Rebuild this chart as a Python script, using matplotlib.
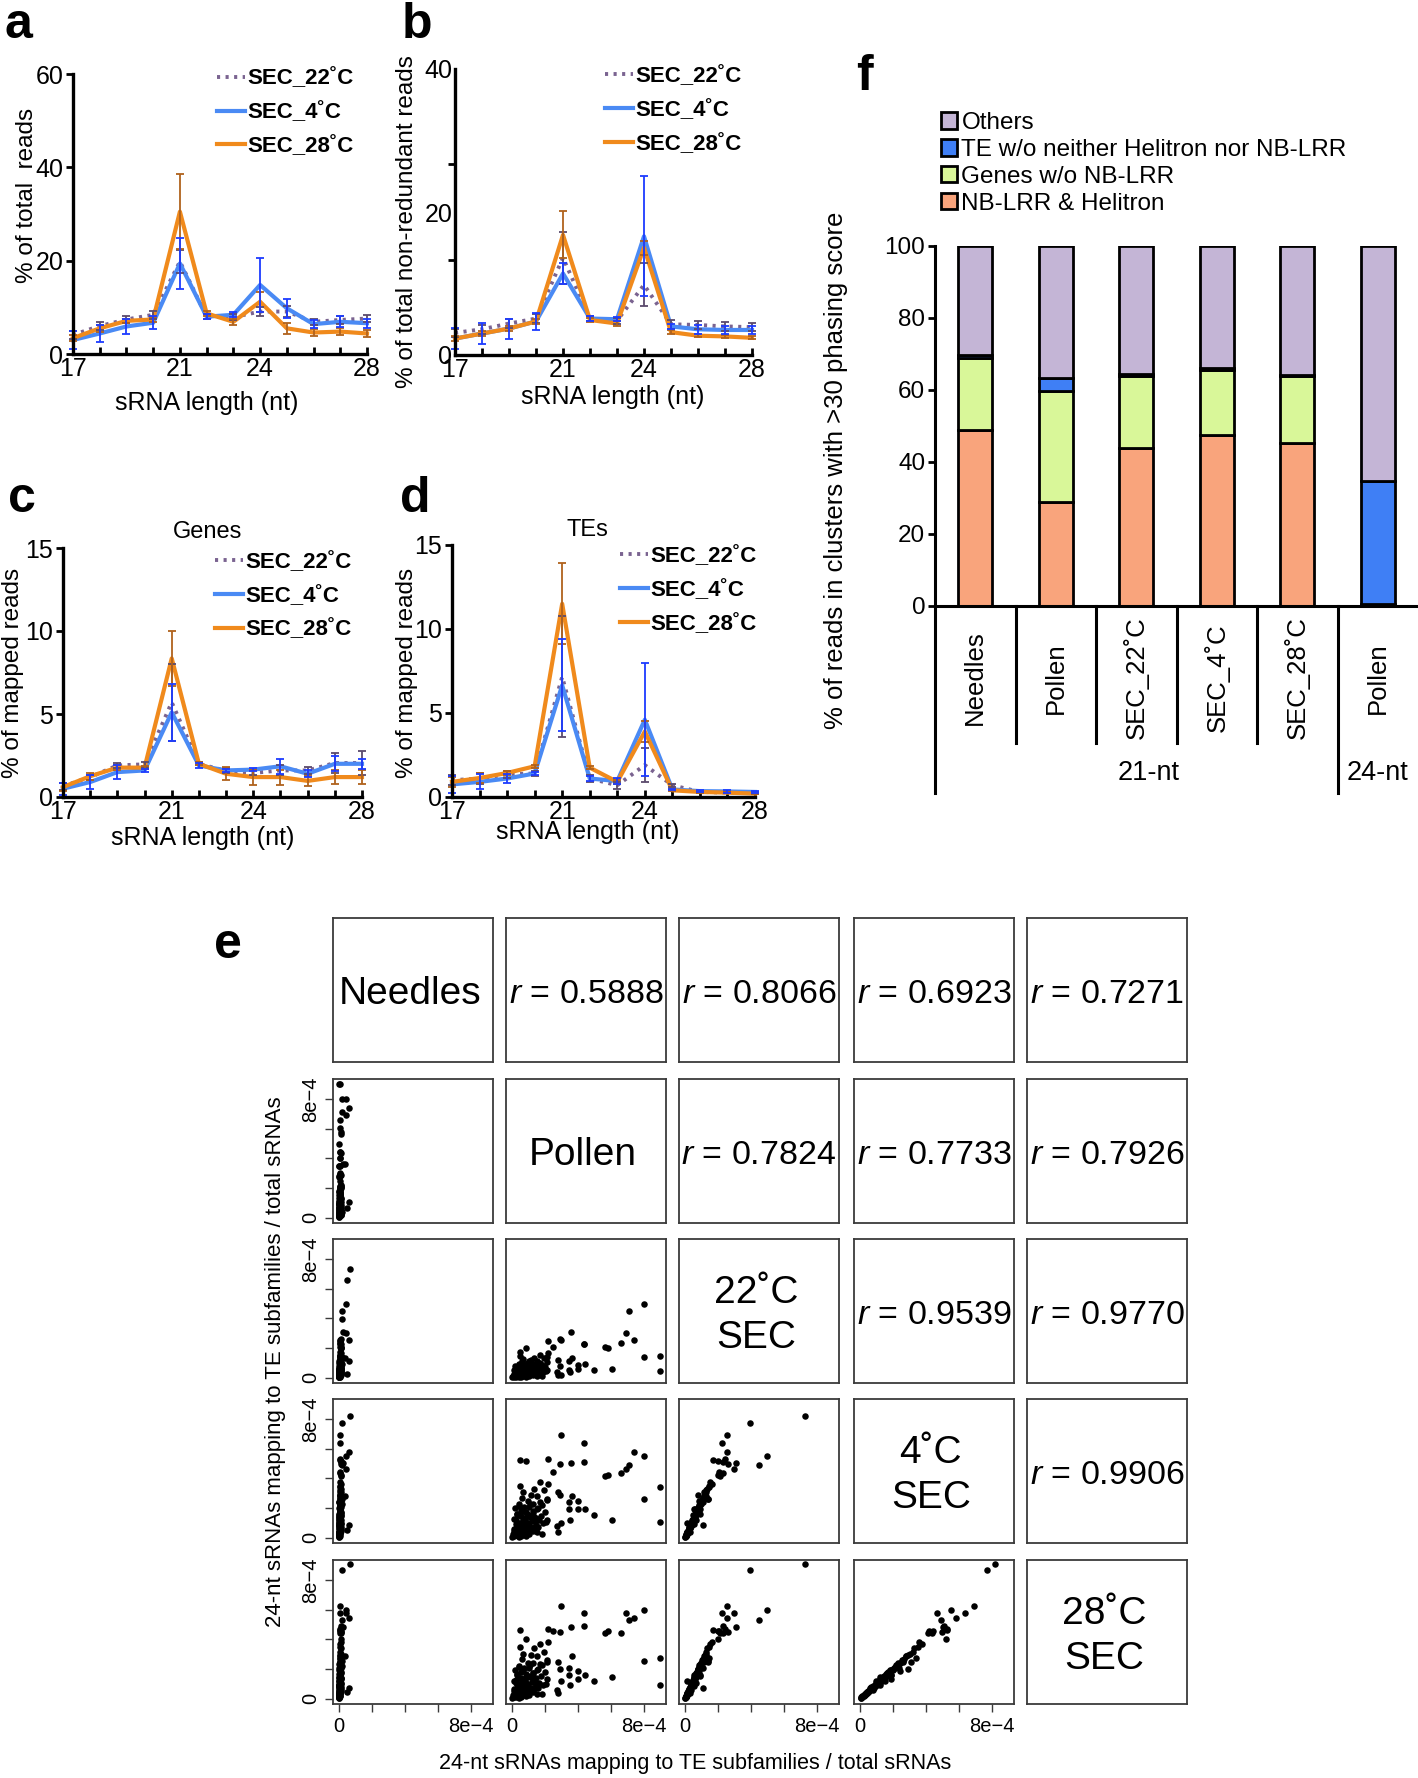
import matplotlib
matplotlib.use('Agg')
import matplotlib.pyplot as plt
import matplotlib.transforms as mtransforms
from matplotlib.lines import Line2D
from matplotlib.patches import Patch
import numpy as np

plt.rcParams['font.family'] = ['Liberation Sans', 'DejaVu Sans']
plt.rcParams['mathtext.fontset'] = 'custom'
plt.rcParams['mathtext.it'] = 'Liberation Sans:italic'
plt.rcParams['mathtext.rm'] = 'Liberation Sans'

# ---- panels a-d : sRNA length distributions ----
lengths = list(range(17, 29))
length_ticks = [17, 21, 24, 28]
series_names = ['SEC_22˚C', 'SEC_4˚C', 'SEC_28˚C']

a_22 = [4.1, 6.0, 7.4, 8.4, 19.8, 8.0, 7.9, 9.1, 9.1, 6.9, 7.3, 7.6]
a_22_err = [0.8, 0.8, 0.7, 0.8, 2.5, 0.6, 0.6, 1.0, 1.2, 0.7, 0.8, 0.8]
a_4 = [3.0, 4.4, 5.9, 6.7, 19.4, 8.0, 8.4, 14.8, 9.8, 6.4, 6.9, 6.6]
a_4_err = [1.9, 1.8, 1.7, 1.4, 5.4, 0.5, 0.5, 5.8, 2.0, 0.8, 1.2, 1.0]
a_28 = [3.4, 5.5, 7.1, 7.4, 30.5, 8.7, 6.9, 11.2, 5.5, 4.6, 4.8, 4.4]
a_28_err = [0.6, 0.7, 0.5, 0.5, 8.1, 0.5, 0.7, 2.1, 1.2, 0.8, 0.8, 0.8]

b_22 = [3.1, 3.6, 4.4, 5.1, 13.6, 5.1, 4.8, 9.8, 4.3, 4.2, 4.0, 3.9]
b_22_err = [0.6, 0.6, 0.6, 0.6, 3.6, 0.4, 0.4, 3.0, 0.6, 0.6, 0.6, 0.6]
b_4 = [2.3, 3.0, 3.7, 4.7, 11.4, 5.1, 5.0, 16.6, 4.0, 3.6, 3.5, 3.5]
b_4_err = [1.5, 1.5, 1.4, 1.2, 1.4, 0.3, 0.3, 8.4, 0.4, 0.6, 0.6, 0.6]
b_28 = [2.3, 3.0, 3.7, 4.7, 16.8, 4.9, 4.4, 15.0, 3.2, 2.7, 2.6, 2.4]
b_28_err = [0.3, 0.3, 0.3, 0.3, 3.3, 0.3, 0.3, 1.0, 0.3, 0.2, 0.2, 0.2]

c_22 = [0.65, 1.2, 1.9, 1.97, 5.7, 2.0, 1.57, 1.45, 1.6, 1.6, 2.05, 2.05]
c_22_err = [0.2, 0.15, 0.15, 0.15, 2.3, 0.1, 0.15, 0.15, 0.3, 0.2, 0.6, 0.7]
c_4 = [0.5, 0.9, 1.5, 1.6, 5.1, 1.9, 1.6, 1.65, 1.85, 1.4, 2.0, 2.0]
c_4_err = [0.35, 0.4, 0.4, 0.1, 1.7, 0.15, 0.1, 0.1, 0.45, 0.2, 0.45, 0.3]
c_28 = [0.6, 1.25, 1.77, 1.77, 8.35, 2.0, 1.4, 1.2, 1.2, 0.97, 1.2, 1.2]
c_28_err = [0.25, 0.2, 0.15, 0.1, 1.65, 0.1, 0.4, 0.45, 0.45, 0.3, 0.4, 0.4]

d_22 = [1.0, 1.1, 1.35, 1.4, 7.15, 1.1, 0.7, 1.9, 0.7, 0.3, 0.26, 0.24]
d_22_err = [0.3, 0.3, 0.2, 0.15, 3.6, 0.2, 0.2, 1.0, 0.1, 0.05, 0.05, 0.05]
d_4 = [0.75, 0.9, 1.1, 1.4, 6.65, 1.1, 0.95, 4.6, 0.45, 0.35, 0.33, 0.3]
d_4_err = [0.5, 0.45, 0.25, 0.1, 2.75, 0.15, 0.2, 3.35, 0.05, 0.05, 0.1, 0.05]
d_28 = [0.9, 1.13, 1.43, 1.83, 11.5, 1.75, 0.9, 3.9, 0.4, 0.3, 0.26, 0.2]
d_28_err = [0.3, 0.3, 0.1, 0.1, 2.4, 0.1, 0.1, 0.6, 0.05, 0.05, 0.05, 0.05]

# ---- panel f : phased clusters ----
f_categories = ['Needles', 'Pollen', 'SEC_22˚C', 'SEC_4˚C', 'SEC_28˚C', 'Pollen']
f_groups = ['21-nt', '24-nt']
f_nblrr = [48.8, 28.9, 44.0, 47.4, 45.4, 0.5]
f_genes = [20.2, 30.8, 20.0, 18.2, 18.5, 0.0]
f_te = [0.6, 3.6, 0.5, 0.6, 0.3, 34.3]
f_others = [30.4, 36.7, 35.5, 33.8, 35.8, 65.2]
f_labels = ['NB-LRR & Helitron', 'Genes w/o NB-LRR',
            'TE w/o neither Helitron nor NB-LRR', 'Others']

# ---- panel e : 24-nt sRNAs per TE subfamily (x 1e-4 of total sRNAs) ----
sample_labels = ['Needles', 'Pollen', '22˚C\nSEC', '4˚C\nSEC', '28˚C\nSEC']
te_needles = [0.65, 0.18, 0.46, 0.40, 0.06, 0.06, 0.60, 0.05, 0.10, 0.08,
              0.15, 0.26, 0.10, 0.07, 0.10, 0.12, 0.08, 0.40, 0.16, 0.05,
              0.03, 0.16, 0.04, 0.02, 0.05, 0.04, 0.06, 0.03, 0.07, 0.02,
              0.09, 0.05, 0.01, 0.04, 0.03, 0.60, 0.48, 0.36] + \
             [0.01, 0.02, 0.03, 0.00, 0.05, 0.02, 0.08, 0.04, 0.10, 0.03,
              0.06, 0.12, 0.02, 0.07, 0.04, 0.15, 0.05, 0.09, 0.03, 0.11,
              0.06, 0.02, 0.14, 0.08, 0.04, 0.10, 0.06, 0.13, 0.05, 0.09,
              0.03, 0.12, 0.07, 0.04, 0.16, 0.08, 0.05, 0.11, 0.06, 0.09,
              0.04, 0.13, 0.07, 0.10, 0.05, 0.08, 0.12, 0.02, 0.05, 0.03,
              0.08, 0.06, 0.00, 0.01, 0.03, 0.02, 0.04, 0.07, 0.05, 0.09] + \
             [0.02, 0.04, 0.06, 0.01, 0.08, 0.03, 0.05, 0.10, 0.02, 0.07,
              0.04, 0.09, 0.03, 0.06, 0.11, 0.02, 0.05, 0.08, 0.04, 0.07,
              0.03, 0.10, 0.06, 0.02, 0.09, 0.05, 0.04, 0.08, 0.06, 0.03]
te_pollen = [13.0, 11.0, 12.0, 8.0, 3.0, 4.4, 7.4, 0.46, 0.84, 2.16,
             2.9, 3.6, 4.37, 2.5, 5.65, 5.8, 6.6, 6.9, 7.1, 9.0,
             9.0, 8.0, 6.05, 5.0, 4.45, 4.0, 4.0, 3.45, 3.45, 3.5,
             2.8, 2.9, 2.8, 2.95, 2.75, 1.05, 0.67, 3.64] + \
            [0.10, 0.30, 0.05, 0.60, 0.20, 0.90, 0.40, 1.20, 0.15, 0.70,
             1.60, 0.35, 0.95, 0.50, 1.90, 0.25, 1.40, 0.80, 0.10, 2.10,
             0.65, 1.10, 0.45, 1.75, 0.30, 1.25, 0.85, 2.00, 0.55, 1.50,
             0.20, 1.05, 0.75, 1.85, 0.40, 1.30, 0.95, 2.15, 0.60, 1.55,
             1.15, 0.70, 1.95, 1.35, 0.50, 1.70, 2.20, 1.50, 1.00, 0.35,
             1.65, 0.90, 0.02, 0.55, 0.25, 1.80, 1.35, 2.05, 1.45, 2.10] + \
            [0.45, 0.85, 0.20, 1.05, 0.40, 0.65, 1.30, 0.15, 0.90, 0.50,
             1.15, 0.28, 0.75, 1.45, 0.38, 0.95, 0.62, 1.20, 0.22, 0.80,
             1.35, 0.58, 1.00, 0.33, 1.25, 0.70, 1.60, 0.45, 1.10, 1.70]
te_sec22 = [7.3, 3.95, 6.6, 5.0, 2.55, 2.25, 2.57, 1.7, 2.0, 2.45,
            2.6, 3.1, 2.3, 2.07, 2.1, 2.0, 2.34, 3.0, 4.5, 1.44,
            0.45, 1.4, 0.6, 0.5, 0.9, 0.88, 0.6, 1.1, 0.55, 0.4,
            1.17, 0.8, 0.15, 0.15, 0.35, 1.1, 0.22, 1.3] + \
           [0.05, 0.08, 0.10, 0.12, 0.15, 0.18, 0.20, 0.22, 0.25, 0.28,
            0.30, 0.32, 0.35, 0.38, 0.40, 0.42, 0.45, 0.48, 0.50, 0.52,
            0.55, 0.58, 0.60, 0.62, 0.65, 0.68, 0.70, 0.72, 0.75, 0.78,
            0.80, 0.83, 0.85, 0.88, 0.90, 0.95, 1.00, 1.05, 1.10, 1.15,
            1.20, 1.25, 1.30, 1.35, 1.45, 1.55, 1.65, 0.10, 0.30, 0.55,
            0.70, 0.90, 0.02, 0.04, 0.06, 0.14, 0.26, 0.46, 0.62, 1.40] + \
           [0.03, 0.07, 0.09, 0.11, 0.13, 0.16, 0.19, 0.21, 0.23, 0.27,
            0.29, 0.31, 0.34, 0.37, 0.39, 0.41, 0.44, 0.47, 0.49, 0.53,
            0.57, 0.59, 0.63, 0.67, 0.73, 0.77, 0.82, 0.86, 0.93, 0.98]
te_sec4 = [8.2, 7.7, 10.5, 5.5, 6.9, 6.35, 5.8, 5.27, 5.2, 5.3,
           5.0, 5.05, 5.1, 4.45, 4.15, 4.2, 4.35, 4.65, 4.9, 3.4,
           1.04, 2.6, 1.2, 1.55, 1.9, 2.45, 1.9, 2.4, 1.9, 1.2,
           3.1, 2.9, 0.4, 1.0, 0.8, 0.88, 0.5, 2.8] + \
          [0.10, 0.20, 0.22, 0.30, 0.35, 0.40, 0.45, 0.55, 0.60, 0.62,
           0.75, 0.70, 0.85, 0.90, 1.00, 0.95, 1.10, 1.15, 1.25, 1.20,
           1.35, 1.40, 1.50, 1.45, 1.60, 1.65, 1.75, 1.70, 1.85, 1.90,
           2.00, 2.05, 2.10, 2.20, 2.25, 2.30, 2.45, 2.55, 2.70, 2.80,
           2.90, 3.05, 3.20, 3.30, 3.50, 3.75, 3.60, 0.35, 0.40, 0.90,
           1.20, 1.60, 0.05, 0.08, 0.15, 0.28, 0.70, 1.05, 1.30, 2.60] + \
          [0.07, 0.14, 0.25, 0.24, 0.33, 0.36, 0.48, 0.47, 0.58, 0.64,
           0.68, 0.78, 0.80, 0.88, 0.97, 1.02, 1.04, 1.12, 1.20, 1.28,
           1.36, 1.44, 1.55, 1.58, 1.78, 1.83, 1.98, 2.12, 2.28, 2.40]
te_sec28 = [9.1, 8.7, 11.0, 5.95, 6.25, 5.8, 5.45, 4.65, 4.05, 4.7,
            4.5, 4.83, 4.9, 4.55, 4.45, 4.55, 4.4, 5.8, 5.3, 2.76,
            0.95, 2.55, 1.44, 1.2, 1.6, 1.85, 1.3, 2.05, 1.6, 0.9,
            2.5, 2.0, 0.35, 1.2, 0.6, 0.72, 0.45, 2.9] + \
           [0.12, 0.18, 0.25, 0.28, 0.38, 0.45, 0.42, 0.50, 0.62, 0.70,
            0.72, 0.80, 0.82, 0.95, 0.92, 1.05, 1.08, 1.20, 1.18, 1.30,
            1.32, 1.45, 1.42, 1.55, 1.58, 1.70, 1.68, 1.80, 1.82, 1.95,
            1.92, 2.10, 2.05, 2.25, 2.20, 2.40, 2.38, 2.60, 2.65, 2.85,
            2.95, 3.00, 3.15, 3.40, 3.45, 3.70, 3.85, 0.30, 0.35, 0.85,
            1.05, 1.50, 0.04, 0.10, 0.14, 0.33, 0.65, 1.00, 1.38, 2.50] + \
           [0.06, 0.17, 0.20, 0.27, 0.30, 0.40, 0.44, 0.52, 0.55, 0.60,
            0.74, 0.75, 0.86, 0.85, 0.98, 0.97, 1.10, 1.14, 1.25, 1.24,
            1.40, 1.38, 1.50, 1.66, 1.75, 1.90, 2.00, 2.15, 2.30, 2.35]
r_values = [0.5888, 0.8066, 0.6923, 0.7271,
            0.7824, 0.7733, 0.7926,
            0.9539, 0.9770,
            0.9906]

C22, C4, C28 = '#7a6390', '#4a8af4', '#f08a1c'
E22, E4, E28 = '#5b4a6c', '#1d3cff', '#b0621c'
F_COLORS = ['#f9a47c', '#d9f799', '#3f7ff5', '#c4b5d6']

W, H = 1418, 1778
fig = plt.figure(figsize=(W / 100, H / 100), dpi=100)


def rect(x0, y0, x1, y1):
    return [x0 / W, 1 - y1 / H, (x1 - x0) / W, (y1 - y0) / H]


def ftext(x, y, s, **kw):
    return fig.text(x / W, 1 - y / H, s, **kw)


def length_panel(r, ymax, yticks, s22, e22, s4, e4, s28, e28, leg_xy):
    ax = fig.add_axes(r)
    ax.plot(lengths, s22, ls=(0, (0.8, 1.4)), color=C22, lw=2.8, clip_on=False)
    ax.plot(lengths, s4, color=C4, lw=3.0, clip_on=False)
    ax.plot(lengths, s28, color=C28, lw=3.0, clip_on=False)
    for s, e, c in [(s22, e22, E22), (s28, e28, E28), (s4, e4, E4)]:
        eb = ax.errorbar(lengths, s, yerr=e, fmt='none', ecolor=c, elinewidth=1.3,
                         capsize=3, capthick=1.3)
        for art in list(eb.lines[1]) + list(eb.lines[2]):
            art.set_clip_on(False)
    ax.set_xlim(17, 28)
    ax.set_ylim(0, ymax)
    for sp in ['top', 'right']:
        ax.spines[sp].set_visible(False)
    for sp in ['left', 'bottom']:
        ax.spines[sp].set_linewidth(2.4)
    ax.set_xticks(length_ticks)
    ax.set_xticks(lengths, minor=True)
    ax.tick_params(axis='x', which='both', direction='in', length=5, width=2, labelsize=18, pad=2)
    ax.set_yticks(yticks)
    ax.tick_params(axis='y', direction='out', length=5, width=2, labelsize=18, pad=2)
    handles = [Line2D([], [], ls=(0, (0.8, 1.4)), color=C22, lw=2.8),
               Line2D([], [], color=C4, lw=3.0),
               Line2D([], [], color=C28, lw=3.0)]
    ax.legend(handles, series_names, loc='upper left', bbox_to_anchor=leg_xy,
              frameon=False, prop={'weight': 'bold', 'size': 16}, handlelength=1.25,
              handletextpad=0.1, labelspacing=0.58, borderaxespad=0, borderpad=0)
    return ax


ax_a = length_panel(rect(73, 74, 367, 354), 60, [0, 20, 40, 60], a_22, a_22_err, a_4, a_4_err,
                    a_28, a_28_err, (0.49, 1.02))
ax_b = length_panel(rect(455, 69, 752, 355), 40, [0, 20, 40], b_22, b_22_err, b_4, b_4_err,
                    b_28, b_28_err, (0.505, 1.01))
ax_b.tick_params(axis='y', which='major', length=0)
ax_b.set_yticks([0, 40 / 3, 80 / 3, 40], minor=True)
ax_b.tick_params(axis='y', which='minor', direction='out', length=5, width=2)
ax_c = length_panel(rect(63, 548, 362, 797), 15, [0, 5, 10, 15], c_22, c_22_err, c_4, c_4_err,
                    c_28, c_28_err, (0.508, 0.985))
ax_d = length_panel(rect(452, 545, 755, 797), 15, [0, 5, 10, 15], d_22, d_22_err, d_4, d_4_err,
                    d_28, d_28_err, (0.554, 0.995))

ftext(27, 195, '% of total  reads', rotation=90, ha='center', va='center', fontsize=17.5)
ftext(407, 222, '% of total non-redundant reads', rotation=90, ha='center', va='center', fontsize=17.5)
ftext(13, 673, '% of mapped reads', rotation=90, ha='center', va='center', fontsize=17.5)
ftext(407, 673, '% of mapped reads', rotation=90, ha='center', va='center', fontsize=17.5)
ftext(207, 403, 'sRNA length (nt)', ha='center', va='center', fontsize=18)
ftext(613, 397, 'sRNA length (nt)', ha='center', va='center', fontsize=18)
ftext(203, 838, 'sRNA length (nt)', ha='center', va='center', fontsize=18)
ftext(588, 832, 'sRNA length (nt)', ha='center', va='center', fontsize=18)
ftext(208, 532, 'Genes', ha='center', va='center', fontsize=17)
ftext(587, 530, 'TEs', ha='center', va='center', fontsize=17)

# ---- panel f ----
ax_f = fig.add_axes(rect(935, 246, 1418, 606))
xpos = np.arange(len(f_categories))
bottom = np.zeros(len(f_categories))
for vals, col, lab in zip([f_nblrr, f_genes, f_te, f_others], F_COLORS, f_labels):
    ax_f.bar(xpos, vals, 0.42, bottom=bottom, color=col, edgecolor='black',
             linewidth=2.0, label=lab)
    bottom = bottom + np.array(vals)
ax_f.set_xlim(-0.5, 5.5)
ax_f.set_ylim(0, 100)
for sp in ['top', 'right']:
    ax_f.spines[sp].set_visible(False)
for sp in ['left', 'bottom']:
    ax_f.spines[sp].set_linewidth(2.2)
ax_f.set_yticks([0, 20, 40, 60, 80, 100])
ax_f.tick_params(axis='y', direction='out', length=5, width=2, labelsize=17.5, pad=2)
ax_f.set_xticks([])
trans = mtransforms.blended_transform_factory(ax_f.transData, ax_f.transAxes)
for i, lab in enumerate(f_categories):
    ax_f.text(i, -0.2, lab, rotation=90, ha='center', va='center', fontsize=18.5, transform=trans)
for b in [0.5, 1.5, 2.5, 3.5]:
    ax_f.plot([b, b], [0, -0.38], color='black', lw=2.2, transform=trans, clip_on=False)
for b in [-0.5, 4.5]:
    ax_f.plot([b, b], [0, -0.52], color='black', lw=2.2, transform=trans, clip_on=False)
ax_f.text(2.15, -0.465, f_groups[0], ha='center', va='center', fontsize=19.5, transform=trans)
ax_f.text(5.0, -0.465, f_groups[1], ha='center', va='center', fontsize=19.5, transform=trans)
leg_handles = [Patch(facecolor=c, edgecolor='black', linewidth=2) for c in F_COLORS][::-1]
ax_f.legend(leg_handles, f_labels[::-1], loc='upper left', bbox_to_anchor=(0.012, 1.372),
            frameon=False, fontsize=17.5, handlelength=0.65, handleheight=0.65,
            handletextpad=0.2, labelspacing=0.2, borderaxespad=0, borderpad=0)
ftext(836, 470, '% of reads in clusters with >30 phasing score', rotation=90,
      ha='center', va='center', fontsize=18.5)

# ---- panel e : pairs plot ----
samples = [te_needles, te_pollen, te_sec22, te_sec4, te_sec28]
cols_x = [333, 506, 679, 854, 1027]
rows_y = [918, 1079, 1239, 1399, 1560]
lim = (-0.36e-4, 9.35e-4)
tick_vals = [0, 2e-4, 4e-4, 6e-4, 8e-4]
tick_labs = ['0', '', '', '', '8e\u22124']
r_iter = iter(r_values)
r_text = {}
for i in range(5):
    for j in range(i + 1, 5):
        r_text[(i, j)] = next(r_iter)
for i in range(5):
    for j in range(5):
        ax = fig.add_axes(rect(cols_x[j], rows_y[i], cols_x[j] + 160, rows_y[i] + 144))
        ax.set_xlim(lim)
        ax.set_ylim(lim)
        for sp in ax.spines.values():
            sp.set_color('#3a3a3a')
            sp.set_linewidth(1.3)
        ax.set_xticks([])
        ax.set_yticks([])
        if i == j:
            ax.text(0.48, 0.47, sample_labels[i], ha='center', va='center', fontsize=28,
                    linespacing=1.3, transform=ax.transAxes)
        elif j > i:
            ax.text(0.5, 0.47, '$r$ = %.4f' % r_text[(i, j)], ha='center', va='center',
                    fontsize=24.5, transform=ax.transAxes)
        else:
            ax.scatter(np.array(samples[j]) * 1e-4, np.array(samples[i]) * 1e-4,
                       s=22, c='black', linewidths=0)
        if j == 0 and i > 0:
            ax.set_yticks(tick_vals)
            ax.set_yticklabels(tick_labs, rotation=90, va='center')
            ax.tick_params(axis='y', length=6, width=1, color='#3a3a3a', labelsize=14.5, pad=3)
        if i == 4 and j < 4:
            ax.set_xticks(tick_vals)
            ax.set_xticklabels(tick_labs)
            ax.tick_params(axis='x', length=6, width=1, color='#3a3a3a', labelsize=14.5, pad=3)

ftext(275, 1362, '24-nt sRNAs mapping to TE subfamilies / total sRNAs', rotation=90,
      ha='center', va='center', fontsize=16)
ftext(695, 1763, '24-nt sRNAs mapping to TE subfamilies / total sRNAs',
      ha='center', va='center', fontsize=15.5)

# panel letters
for letter, x, y in [('a', 5, 38), ('b', 402, 38), ('c', 8, 512), ('d', 400, 512),
                     ('e', 214, 958), ('f', 856, 90)]:
    ftext(x, y, letter, ha='left', va='baseline', fontsize=36, fontweight='bold')

fig.savefig('out.png', dpi=100)
